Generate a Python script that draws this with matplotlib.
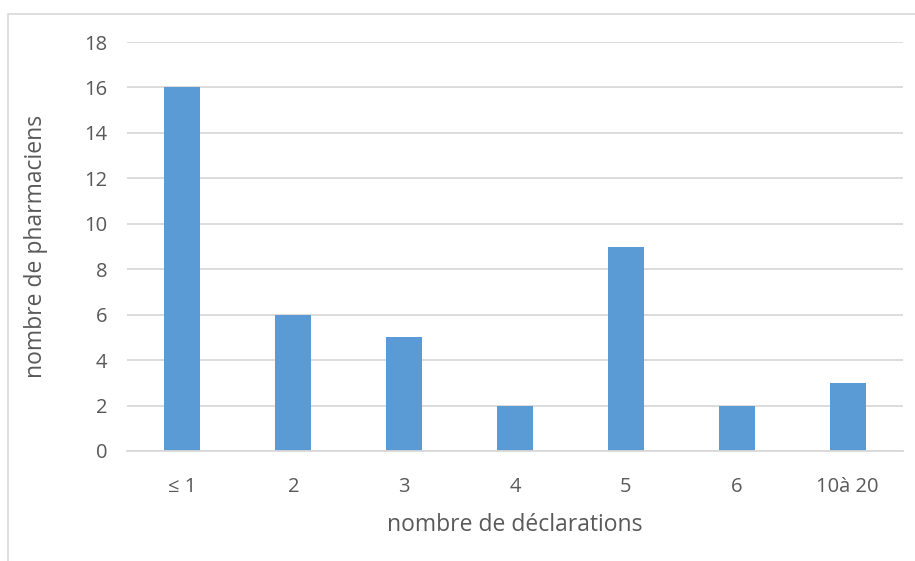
import matplotlib.pyplot as plt
from matplotlib.patches import Rectangle

categories = ["≤ 1", "2", "3", "4", "5", "6", "10à 20"]
pharmaciens = [16, 6, 5, 2, 9, 2, 3]
y_ticks = [0, 2, 4, 6, 8, 10, 12, 14, 16, 18]

text_color = "#595959"
grid_color = "#D9D9D9"
bar_color = "#5B9BD5"

plt.rcParams['font.family'] = ['Open Sans', 'DejaVu Sans']

fig = plt.figure(figsize=(9.15, 5.61), dpi=100)
ax = fig.add_axes([127 / 915, 1 - 451 / 561, 776 / 915, 409 / 561])

# chart frame (right and bottom edges fall outside the picture)
fig.patches.append(Rectangle((7.5 / 915, -0.1), 1.0, 1 - 13.5 / 561 + 0.1,
                             transform=fig.transFigure, fill=False,
                             edgecolor=grid_color, linewidth=1.2))

x = range(len(categories))
ax.bar(x, pharmaciens, width=0.325, color=bar_color, zorder=2)

ax.set_xlim(-0.5, len(categories) - 0.5)
ax.set_ylim(0, 18)
ax.set_yticks(y_ticks)
ax.set_xticks(list(x))
ax.set_xticklabels(categories)
ax.yaxis.grid(True, color=grid_color, linewidth=1.3, zorder=0)
ax.set_axisbelow(True)

for side in ["top", "right", "left"]:
    ax.spines[side].set_visible(False)
ax.spines["bottom"].set_color(grid_color)
ax.spines["bottom"].set_linewidth(1.3)

ax.tick_params(axis="both", length=0, labelsize=14.5, labelcolor=text_color)
ax.tick_params(axis="y", pad=14)
ax.tick_params(axis="x", pad=19)

ax.set_xlabel("nombre de déclarations", fontsize=16.5, color=text_color, labelpad=11)
ax.set_ylabel("nombre de pharmaciens", fontsize=16.5, color=text_color, labelpad=26)

fig.savefig("out.png", dpi=100)
